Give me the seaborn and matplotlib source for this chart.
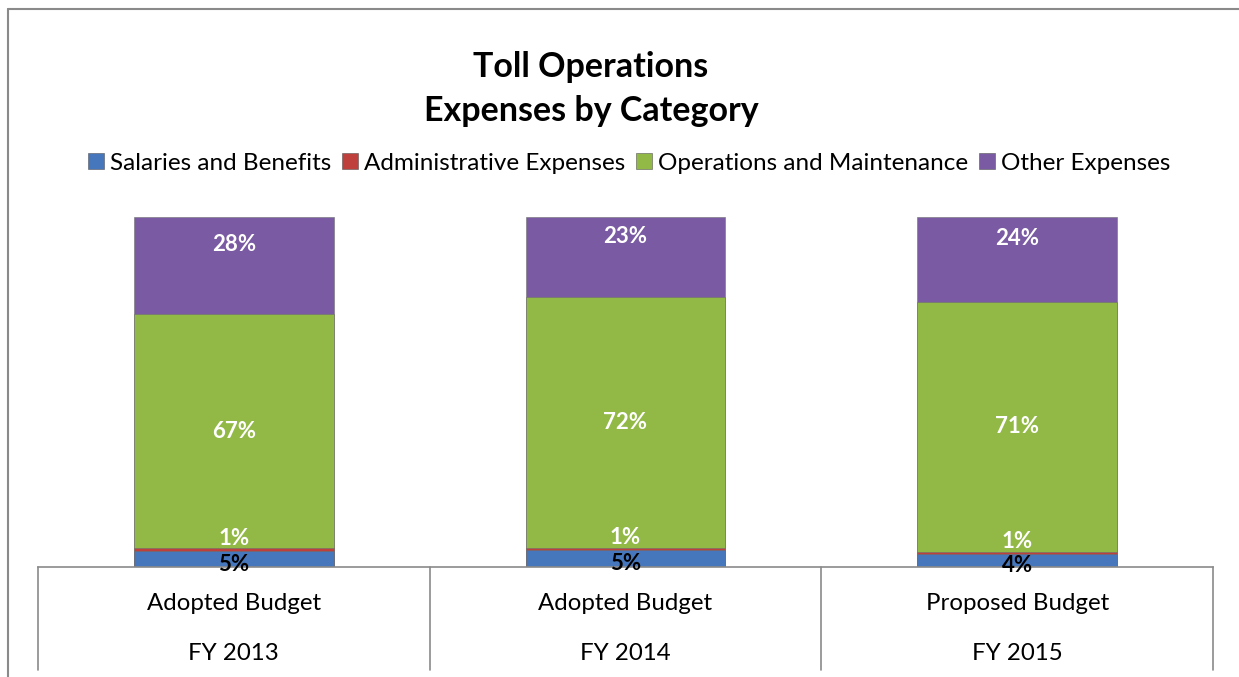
import numpy as np
import pandas as pd
import matplotlib
matplotlib.use("Agg")
import matplotlib.pyplot as plt
import seaborn as sns
from matplotlib.patches import Patch
from matplotlib.lines import Line2D

# ---- data ----
fiscal_years = ["FY 2013", "FY 2014", "FY 2015"]
budget_types = ["Adopted Budget", "Adopted Budget", "Proposed Budget"]
series_names = ["Salaries and Benefits", "Administrative Expenses",
                "Operations and Maintenance", "Other Expenses"]
salaries = [4.7, 4.9, 3.8]
administrative = [0.6, 0.6, 0.6]
operations = [67.1, 71.6, 71.4]
other = [27.6, 22.9, 24.2]

title_lines = ["Toll Operations", "Expenses by Category"]

# ---- style ----
colors = ["#4677BC", "#BE3F3B", "#92B946", "#7A5BA3"]
label_colors = ["black", "white", "white", "white"]
label_offsets_pt = [-4, 8, 0, 15]

sns.set_theme(style="white")
plt.rcParams["font.family"] = ["Lato", "DejaVu Sans"]
plt.rcParams["text.color"] = "black"

W, H = 1239, 677
fig = plt.figure(figsize=(W / 100, H / 100), dpi=100)
fig.patch.set_facecolor("white")

ax_left, ax_right, ax_top, ax_bottom = 38, 1213, 217, 567
ax = fig.add_axes([ax_left / W, 1 - ax_bottom / H,
                   (ax_right - ax_left) / W, (ax_bottom - ax_top) / H])

series = [salaries, administrative, operations, other]
cum = np.cumsum(np.array(series, dtype=float), axis=0)
bottoms = np.vstack([np.zeros(len(fiscal_years)), cum[:-1]])

# draw from the tallest cumulative layer down so each covers the part below
for k in range(len(series) - 1, -1, -1):
    df = pd.DataFrame({"year": fiscal_years, "value": cum[k]})
    sns.barplot(data=df, x="year", y="value", order=fiscal_years,
                color=colors[k], saturation=1, width=0.51, ax=ax,
                edgecolor="#6f6f6f", linewidth=0.4)

ax.set_xlim(-0.5, len(fiscal_years) - 0.5)
ax.set_ylim(0, 100)
ax.set_xlabel("")
ax.set_ylabel("")
ax.set_xticks([])
ax.set_yticks([])
for s in ["left", "right", "top"]:
    ax.spines[s].set_visible(False)
ax.spines["bottom"].set_color("#8a8a8a")
ax.spines["bottom"].set_linewidth(1.2)

# data labels
for k in range(len(series)):
    for i in range(len(fiscal_years)):
        v = series[k][i]
        center = bottoms[k][i] + v / 2
        ax.annotate(f"{v:.0f}%", xy=(i, center),
                    xytext=(0, label_offsets_pt[k]), textcoords="offset points",
                    ha="center", va="center", fontsize=16, fontweight="bold",
                    color=label_colors[k], annotation_clip=False)

# category table below the axis
xtr = ax.get_xaxis_transform()
table_bottom = -(670 - ax_bottom) / (ax_bottom - ax_top)
for xb in np.arange(-0.5, len(fiscal_years), 1.0):
    ax.plot([xb, xb], [0, table_bottom], transform=xtr, color="#8a8a8a",
            lw=1.2, clip_on=False)
y1 = -(603 - ax_bottom) / (ax_bottom - ax_top)
y2 = -(653 - ax_bottom) / (ax_bottom - ax_top)
for i in range(len(fiscal_years)):
    ax.text(i, y1, budget_types[i], transform=xtr, ha="center", va="center",
            fontsize=17.3, color="black")
    ax.text(i, y2, fiscal_years[i], transform=xtr, ha="center", va="center",
            fontsize=17.3, color="black")

# title
fig.text(591 / W, 1 - 67 / H, title_lines[0], ha="center", va="center",
         fontsize=24.5, fontweight="bold", color="black")
fig.text(591 / W, 1 - 111 / H, title_lines[1], ha="center", va="center",
         fontsize=24.5, fontweight="bold", color="black")

# legend
handles = [Patch(facecolor=c, edgecolor="#555555", linewidth=0.4) for c in colors]
leg = fig.legend(handles, series_names, loc="center",
                 bbox_to_anchor=(629 / W, 1 - 163 / H),
                 ncol=4, frameon=False, fontsize=17.5, handlelength=0.65,
                 handleheight=0.65, handletextpad=0.25, columnspacing=0.45,
                 borderpad=0)
for t in leg.get_texts():
    t.set_color("black")

# outer chart border (left and top)
fig.add_artist(Line2D([8 / W, 8 / W], [0, 1 - 9 / H], transform=fig.transFigure,
                      color="#8a8a8a", lw=1.5))
fig.add_artist(Line2D([8 / W, 1], [1 - 9 / H, 1 - 9 / H], transform=fig.transFigure,
                      color="#8a8a8a", lw=1.5))

fig.savefig("out.png", dpi=100)
